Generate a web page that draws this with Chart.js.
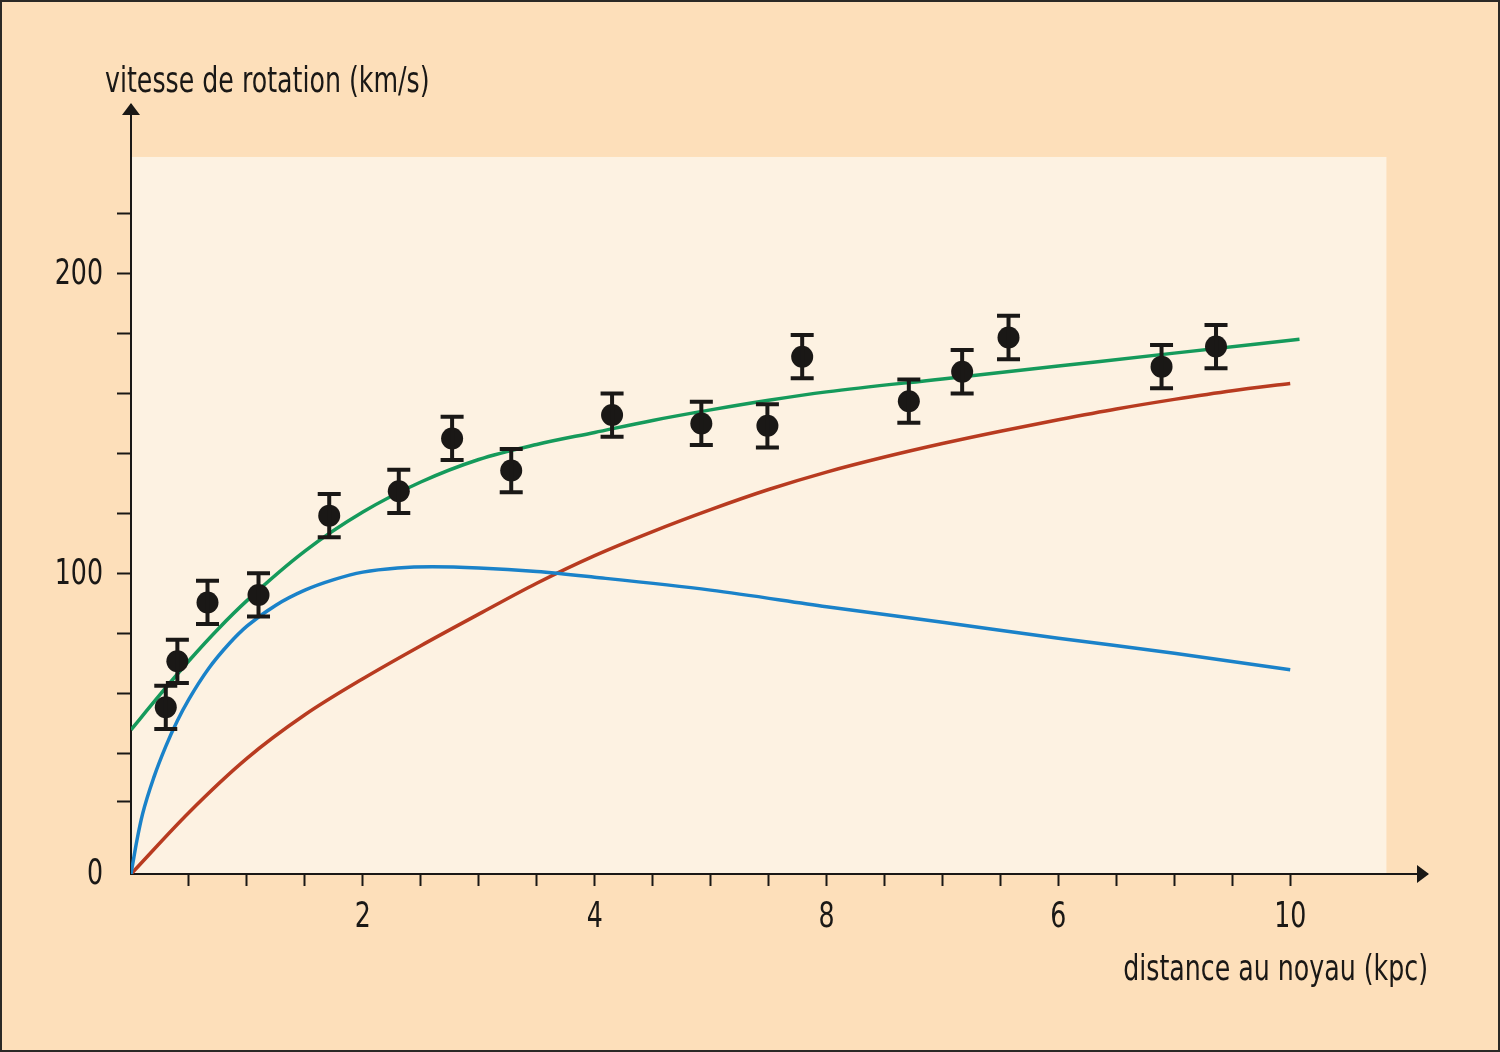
<!DOCTYPE html>
<html>
<head>
<meta charset="utf-8">
<script src="https://cdn.jsdelivr.net/npm/chart.js@4.4.1/dist/chart.umd.min.js"></script>
<style>
  html, body { margin: 0; padding: 0; background: #fddfba; }
  canvas { display: block; }
</style>
</head>
<body>
<canvas id="chart" width="1500" height="1052"></canvas>
<script>
// courbe totale (verte)
const greenX = [0, 0.25, 0.5, 0.75, 1, 1.5, 2, 2.5, 3, 3.5, 4, 4.5, 5, 5.5, 6, 7, 8, 9, 10.08];
const greenY = [48, 59.7, 71, 81.5, 91, 107.5, 120.5, 130.5, 138, 143, 147, 151, 154.5, 157.7, 160.5, 164.8, 169.1, 173.4, 178];

// contribution visible (bleue)
const blueX = [0, 0.05, 0.1, 0.2, 0.3, 0.4, 0.5, 0.67, 0.85, 1, 1.25, 1.5, 1.75, 2, 2.3, 2.6, 3, 3.5, 4, 5, 6, 7, 8, 9, 10];
const blueY = [0, 11, 20, 32.5, 42.5, 51, 58.2, 68.4, 76.8, 82.5, 89.5, 94.5, 98, 100.5, 101.9, 102.3, 101.9, 100.7, 98.8, 94.5, 89, 83.8, 78.5, 73.5, 68];

// halo (rouge)
const redX = [0, 0.5, 1, 1.5, 2, 2.5, 3, 3.5, 4, 4.5, 5, 5.5, 6, 6.5, 7, 7.5, 8, 8.5, 9, 9.5, 10];
const redY = [0, 20.5, 38.5, 53, 65, 76, 86.5, 96.8, 106, 114, 121.3, 128, 133.8, 138.8, 143.3, 147.4, 151.2, 154.8, 158, 160.9, 163.3];

// mesures avec barres d'erreur
const pointX = [0.30, 0.40, 0.66, 1.10, 1.71, 2.31, 2.77, 3.28, 4.15, 4.92, 5.49, 5.79, 6.71, 7.17, 7.57, 8.89, 9.36];
const pointY = [55.5, 70.8, 90.4, 92.9, 119.3, 127.4, 145, 134.3, 152.8, 150, 149.2, 172.2, 157.4, 167.2, 178.6, 168.9, 175.6];
const pointErr = [7.2, 7.2, 7.2, 7.2, 7.2, 7.2, 7.2, 7.2, 7.2, 7.2, 7.2, 7.2, 7.2, 7.2, 7.2, 7.2, 7.2];

// graduations
const xTickValues = [0.5, 1, 1.5, 2, 2.5, 3, 3.5, 4, 4.5, 5, 5.5, 6, 6.5, 7, 7.5, 8, 8.5, 9, 9.5, 10];
const xLabelValues = [2, 4, 6, 8, 10];
const xLabelTexts = ['2', '4', '8', '6', '10'];
const yTickValues = [0, 24, 40, 60, 80, 100, 120, 140, 160, 180, 200, 220];
const yLabelValues = [0, 100, 200];

const xAxisEnd = 11.18, yAxisEnd = 256;
const plotRight = 10.83, plotTop = 238.7;

const ink = '#1a1816';
const peach = '#fddfba';
const light = '#fdf2e2';
const fontFamily = '"DejaVu Sans Condensed", "DejaVu Sans", sans-serif';
const squeeze = 0.78; // police etroite simulee

const toXY = (xs, ys) => xs.map((x, i) => ({ x: x, y: ys[i] }));

function narrowText(ctx, text, x, y, align) {
    const w = ctx.measureText(text).width * squeeze;
    let left = x;
    if (align === 'right') left = x - w;
    if (align === 'center') left = x - w / 2;
    ctx.save();
    ctx.translate(left, y);
    ctx.scale(squeeze, 1);
    ctx.textAlign = 'left';
    ctx.fillText(text, 0, 0);
    ctx.restore();
}

const backdrop = {
    id: 'backdrop',
    beforeDraw(chart) {
        const { ctx, width, height } = chart;
        const x = chart.scales.x, y = chart.scales.y;
        ctx.save();
        ctx.fillStyle = peach;
        ctx.fillRect(0, 0, width, height);
        const l = x.getPixelForValue(0), r = x.getPixelForValue(plotRight);
        const t = y.getPixelForValue(plotTop), b = y.getPixelForValue(0);
        ctx.fillStyle = light;
        ctx.fillRect(l, t, r - l, b - t);
        ctx.strokeStyle = '#2b2926';
        ctx.lineWidth = 2;
        ctx.strokeRect(1, 1, width - 2, height - 2);
        ctx.restore();
    }
};

const errorBars = {
    id: 'errorBars',
    afterDatasetsDraw(chart) {
        const { ctx } = chart;
        const x = chart.scales.x, y = chart.scales.y;
        ctx.save();
        ctx.strokeStyle = ink;
        ctx.lineWidth = 4;
        pointX.forEach((px, i) => {
            const cx = x.getPixelForValue(px);
            const top = y.getPixelForValue(pointY[i] + pointErr[i]);
            const bot = y.getPixelForValue(pointY[i] - pointErr[i]);
            ctx.beginPath();
            ctx.moveTo(cx, top); ctx.lineTo(cx, bot);
            ctx.moveTo(cx - 11.5, top); ctx.lineTo(cx + 11.5, top);
            ctx.moveTo(cx - 11.5, bot); ctx.lineTo(cx + 11.5, bot);
            ctx.stroke();
        });
        ctx.restore();
    }
};

const axisDecor = {
    id: 'axisDecor',
    afterDraw(chart) {
        const { ctx, chartArea } = chart;
        const x = chart.scales.x, y = chart.scales.y;
        const ox = chartArea.left, oy = chartArea.bottom;
        ctx.save();
        ctx.fillStyle = ink;
        // fleche verticale
        ctx.beginPath();
        ctx.moveTo(ox, chartArea.top - 2);
        ctx.lineTo(ox - 9, chartArea.top + 10);
        ctx.lineTo(ox + 9, chartArea.top + 10);
        ctx.closePath();
        ctx.fill();
        // fleche horizontale
        ctx.beginPath();
        ctx.moveTo(chartArea.right + 2, oy);
        ctx.lineTo(chartArea.right - 10, oy - 9);
        ctx.lineTo(chartArea.right - 10, oy + 9);
        ctx.closePath();
        ctx.fill();

        ctx.font = '36px ' + fontFamily;
        // etiquettes des graduations
        ctx.textBaseline = 'middle';
        yLabelValues.forEach(v => {
            narrowText(ctx, String(v), ox - 28, y.getPixelForValue(v) + 1, 'right');
        });
        xLabelValues.forEach((v, i) => {
            narrowText(ctx, xLabelTexts[i], x.getPixelForValue(v), oy + 44, 'center');
        });
        // titres des axes
        ctx.textBaseline = 'alphabetic';
        narrowText(ctx, 'vitesse de rotation (km/s)', ox - 26, chartArea.top - 13, 'left');
        narrowText(ctx, 'distance au noyau (kpc)', chartArea.right + 1, oy + 106, 'right');
        ctx.restore();
    }
};

const ctx = document.getElementById('chart').getContext('2d');
new Chart(ctx, {
    type: 'line',
    data: {
        datasets: [{
            type: 'scatter',
            label: 'mesures',
            data: toXY(pointX, pointY),
            pointRadius: 11,
            pointBackgroundColor: ink,
            pointBorderWidth: 0,
            order: 0
        }, {
            label: 'total',
            data: toXY(greenX, greenY),
            borderColor: '#159a5b',
            borderWidth: 3.5,
            pointRadius: 0,
            cubicInterpolationMode: 'monotone',
            order: 1
        }, {
            label: 'disque',
            data: toXY(blueX, blueY),
            borderColor: '#1a82c9',
            borderWidth: 3.5,
            pointRadius: 0,
            cubicInterpolationMode: 'monotone',
            order: 1
        }, {
            label: 'halo',
            data: toXY(redX, redY),
            borderColor: '#b83b20',
            borderWidth: 3.5,
            pointRadius: 0,
            cubicInterpolationMode: 'monotone',
            order: 1
        }]
    },
    options: {
        responsive: false,
        animation: false,
        layout: { padding: { left: 0, top: 105, right: 73, bottom: 0 } },
        plugins: {
            legend: { display: false },
            tooltip: { enabled: false }
        },
        scales: {
            x: {
                type: 'linear',
                min: 0,
                max: xAxisEnd,
                afterBuildTicks: s => { s.ticks = xTickValues.map(v => ({ value: v })); },
                afterFit: s => { s.height = 178; },
                ticks: { display: false },
                grid: { drawOnChartArea: false, tickLength: 12, tickWidth: 2, tickColor: ink },
                border: { color: ink, width: 2 }
            },
            y: {
                type: 'linear',
                min: 0,
                max: yAxisEnd,
                afterBuildTicks: s => { s.ticks = yTickValues.map(v => ({ value: v })); },
                afterFit: s => { s.width = 131; },
                ticks: { display: false },
                grid: {
                    drawOnChartArea: false,
                    tickLength: 14,
                    tickWidth: 2,
                    tickColor: c => (c.tick && c.tick.value === 0) ? 'rgba(0,0,0,0)' : ink
                },
                border: { color: ink, width: 2 }
            }
        }
    },
    plugins: [backdrop, errorBars, axisDecor]
});
</script>
</body>
</html>
